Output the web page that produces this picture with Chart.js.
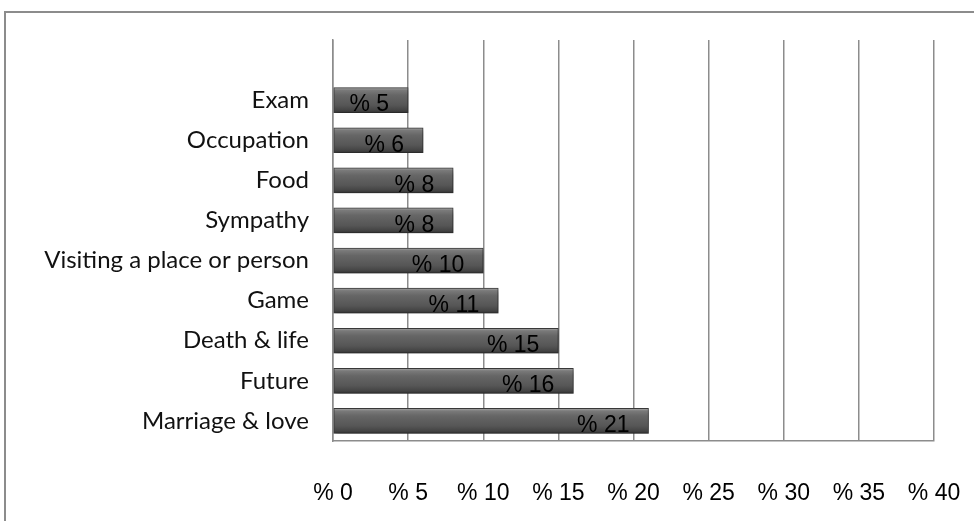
<!DOCTYPE html>
<html>
<head>
<meta charset="utf-8">
<script src="https://cdn.jsdelivr.net/npm/chart.js@4.4.1/dist/chart.umd.min.js"></script>
<style>
    html, body { margin: 0; padding: 0; background: #fff; overflow: hidden; }
    #frame {
        position: absolute; left: 4px; top: 11px;
        width: 1000px; height: 560px;
        border: 2px solid #8c8c8c; box-sizing: border-box;
    }
    #wrap { position: absolute; left: 0; top: 0; width: 974px; height: 521px; }
</style>
</head>
<body>
<div id="frame"></div>
<div id="wrap"><canvas id="topics-chart" width="974" height="521"></canvas></div>
<script>
// top slot is left empty, as in the original
const categories = ['', 'Exam', 'Occupation', 'Food', 'Sympathy', 'Visiting a place or person', 'Game', 'Death & life', 'Future', 'Marriage & love'];
const percents = [null, 5, 6, 8, 8, 10, 11, 15, 16, 21];
const tickValues = [0, 5, 10, 15, 20, 25, 30, 35, 40];

const BAR_H = 25;
const NUM_FONT = '"Liberation Sans", Arial, sans-serif';

function barFill(context) {
    const chart = context.chart;
    const yScale = chart.scales.y;
    if (!yScale || !chart.chartArea) return '#5a5a5a';
    const cy = yScale.getPixelForValue(context.dataIndex);
    const g = chart.ctx.createLinearGradient(0, cy - BAR_H / 2, 0, cy + BAR_H / 2);
    g.addColorStop(0, '#a8a8a8');
    g.addColorStop(0.1, '#7a7a7a');
    g.addColorStop(0.3, '#666666');
    g.addColorStop(0.7, '#565656');
    g.addColorStop(0.9, '#444444');
    g.addColorStop(1, '#333333');
    return g;
}

const barShadow = {
    id: 'barShadow',
    beforeDatasetDraw(chart) {
        const ctx = chart.ctx;
        ctx.save();
        ctx.shadowColor = 'rgba(0,0,0,0.35)';
        ctx.shadowBlur = 5;
        ctx.shadowOffsetX = 2;
        ctx.shadowOffsetY = 3;
    },
    afterDatasetDraw(chart) {
        chart.ctx.restore();
    }
};

const barLabels = {
    id: 'barLabels',
    afterDatasetsDraw(chart) {
        const ctx = chart.ctx;
        const meta = chart.getDatasetMeta(0);
        ctx.save();
        ctx.font = '23px ' + NUM_FONT;
        ctx.fillStyle = '#000';
        ctx.textAlign = 'right';
        ctx.textBaseline = 'middle';
        meta.data.forEach((bar, i) => {
            const v = percents[i];
            if (v === null) return;
            ctx.fillText('% ' + v, bar.x - 19, bar.y + 5);
        });
        ctx.restore();
    }
};

new Chart(document.getElementById('topics-chart'), {
    type: 'bar',
    data: {
        labels: categories,
        datasets: [{
            data: percents,
            backgroundColor: barFill,
            borderColor: '#3a3a3a',
            borderWidth: 1,
            borderSkipped: false,
            barThickness: BAR_H
        }]
    },
    options: {
        indexAxis: 'y',
        responsive: false,
        animation: false,
        layout: { padding: { left: 0, right: 40, top: 40, bottom: 0 } },
        plugins: {
            legend: { display: false },
            tooltip: { enabled: false }
        },
        scales: {
            x: {
                min: 0,
                max: 40,
                afterBuildTicks: (scale) => {
                    scale.ticks = tickValues.map(v => ({ value: v }));
                },
                afterFit: (scale) => {
                    scale.height = 80;
                    scale.paddingLeft = 0;
                    scale.paddingRight = 0;
                },
                grid: { color: '#8c8c8c', lineWidth: 1.5, drawTicks: false },
                border: { display: true, color: '#8c8c8c', width: 1.5 },
                ticks: {
                    padding: 39,
                    maxRotation: 0,
                    color: '#000',
                    font: { family: NUM_FONT, size: 23 },
                    callback: (v) => '% ' + v
                }
            },
            y: {
                afterFit: (scale) => { scale.width = 333; },
                grid: { display: false, drawTicks: false },
                border: { display: true, color: '#8c8c8c', width: 1.5 },
                ticks: {
                    padding: 24,
                    color: '#111',
                    font: { family: 'Lato, "Open Sans", sans-serif', size: 24 }
                }
            }
        }
    },
    plugins: [barShadow, barLabels]
});
</script>
</body>
</html>
